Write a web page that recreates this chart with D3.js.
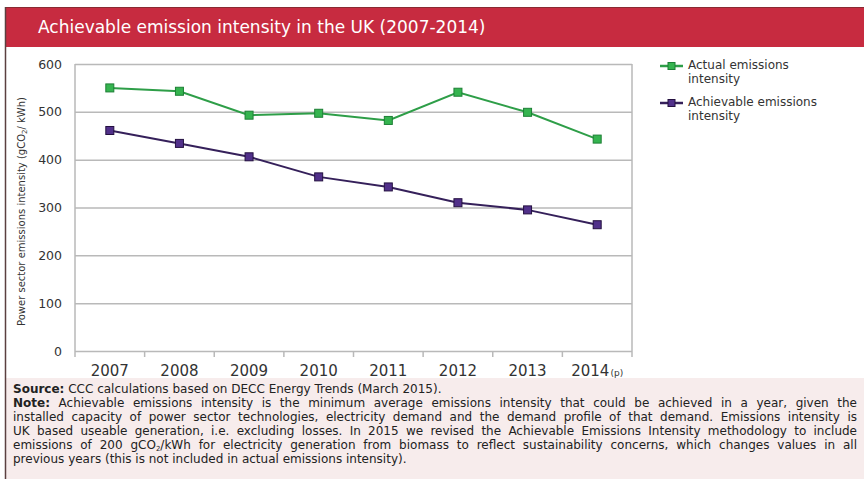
<!DOCTYPE html>
<html>
<head>
<meta charset="utf-8">
<script src="https://cdn.jsdelivr.net/npm/d3@7/dist/d3.min.js"></script>
<style>
  html, body { margin: 0; padding: 0; background: #ffffff; }
  svg { display: block; }
  text { font-family: "DejaVu Sans", Verdana, sans-serif; }
</style>
</head>
<body>
<svg id="chart" width="864" height="479"></svg>
<script>
// ---- data ----
const years = ["2007", "2008", "2009", "2010", "2011", "2012", "2013", "2014"];
const actualIntensity = [550, 543, 493, 497, 482, 541, 499, 443];
const achievableIntensity = [461, 434, 406, 364, 343, 310, 295, 264];
const yTicks = [0, 100, 200, 300, 400, 500, 600];
const seriesNames = ["Actual emissions intensity", "Achievable emissions intensity"];
const titleText = "Achievable emission intensity in the UK (2007-2014)";

// footnote lines; "|" ends a bold lead-in, "_x_" marks a subscript
const sourceLine = "Source:| CCC calculations based on DECC Energy Trends (March 2015).";
const noteLines = [
  "Note:| Achievable emissions intensity is the minimum average emissions intensity that could be achieved in a year, given the",
  "installed capacity of power sector technologies, electricity demand and the demand profile of that demand. Emissions intensity is",
  "UK based useable generation, i.e. excluding losses. In 2015 we revised the Achievable Emissions Intensity methodology to include",
  "emissions of 200 gCO_2_/kWh for electricity generation from biomass to reflect sustainability concerns, which changes values in all",
  "previous years (this is not included in actual emissions intensity)."
];

const svg = d3.select("#chart");

// ---- frame, title bar and footnote panel ----
svg.append("rect").attr("x", 5).attr("y", 378).attr("width", 859).attr("height", 101).attr("fill", "#f7ecec");
svg.append("rect").attr("x", 5).attr("y", 7).attr("width", 859).attr("height", 40).attr("fill", "#c72b40");
svg.append("line").attr("x1", 5).attr("x2", 864).attr("y1", 7.5).attr("y2", 7.5).attr("stroke", "#8a2a32").attr("stroke-width", 1);
svg.append("line").attr("x1", 5.5).attr("x2", 5.5).attr("y1", 7).attr("y2", 479).attr("stroke", "#5b4040").attr("stroke-width", 1.5);

svg.append("text")
  .attr("x", 38).attr("y", 33)
  .attr("fill", "#ffffff")
  .attr("font-size", 17)
  .text(titleText);

// ---- chart ----
const plot = { left: 75, right: 632, top: 64, bottom: 351 };
const x = d3.scaleBand().domain(years).range([plot.left, plot.right]);
const y = d3.scaleLinear().domain([0, 600]).range([plot.bottom, plot.top]);

const gridColor = "#b9b9b9";

// horizontal gridlines + y labels
const yAxis = svg.append("g")
  .attr("transform", `translate(${plot.left},0)`)
  .call(d3.axisLeft(y).tickValues(yTicks).tickSize(-(plot.right - plot.left)).tickPadding(13).tickFormat(d3.format("d")));
yAxis.select(".domain").remove();
yAxis.selectAll(".tick line").attr("stroke", gridColor).attr("stroke-width", 1.5);
yAxis.selectAll(".tick text")
  .attr("font-family", "DejaVu Sans, Verdana, sans-serif")
  .attr("font-size", 12.5).attr("fill", "#333333");

// plot frame sides
svg.append("line").attr("x1", plot.left).attr("x2", plot.left).attr("y1", plot.top).attr("y2", plot.bottom + 6)
  .attr("stroke", gridColor).attr("stroke-width", 1.5);
svg.append("line").attr("x1", plot.right).attr("x2", plot.right).attr("y1", plot.top).attr("y2", plot.bottom + 6)
  .attr("stroke", gridColor).attr("stroke-width", 1.5);

// x axis: ticks on band boundaries
const xAxis = svg.append("g").attr("transform", `translate(0,${plot.bottom})`);
xAxis.selectAll("line.bt")
  .data(years.slice(1))
  .join("line")
  .attr("class", "bt")
  .attr("x1", d => x(d)).attr("x2", d => x(d))
  .attr("y1", 0).attr("y2", 6)
  .attr("stroke", gridColor).attr("stroke-width", 1.5);

const xLabels = xAxis.selectAll("text.xl")
  .data(years)
  .join("text")
  .attr("class", "xl")
  .attr("x", d => x(d) + x.bandwidth() / 2)
  .attr("y", 25)
  .attr("text-anchor", "middle")
  .attr("font-size", 15)
  .attr("fill", "#333333");
xLabels.append("tspan").text(d => d);
xLabels.filter(d => d === years[years.length - 1])
  .append("tspan").attr("font-size", 9).attr("dx", 1).text("(p)");

// y axis title
const yTitle = svg.append("text")
  .attr("transform", `translate(25,${(plot.top + plot.bottom) / 2 + 4}) rotate(-90)`)
  .attr("text-anchor", "middle")
  .attr("font-size", 10)
  .attr("fill", "#333333");
yTitle.append("tspan").text("Power sector emissions intensity (gCO");
yTitle.append("tspan").attr("font-size", 7).attr("dy", 2).text("2");
yTitle.append("tspan").attr("dy", -2).text("/ kWh)");

// ---- series ----
const series = [
  { name: seriesNames[0], values: actualIntensity, line: "#2e9e48", fill: "#35b44f", stroke: "#1d7f35" },
  { name: seriesNames[1], values: achievableIntensity, line: "#35205a", fill: "#51308a", stroke: "#241040" }
];
const cx = (i) => x(years[i]) + x.bandwidth() / 2;
const lineGen = d3.line().x((d, i) => cx(i)).y(d => y(d));
const ms = 8;

series.forEach(s => {
  svg.append("path")
    .attr("d", lineGen(s.values))
    .attr("fill", "none")
    .attr("stroke", s.line)
    .attr("stroke-width", 2);
  svg.selectAll(null)
    .data(s.values)
    .join("rect")
    .attr("x", (d, i) => cx(i) - ms / 2)
    .attr("y", d => y(d) - ms / 2)
    .attr("width", ms).attr("height", ms)
    .attr("fill", s.fill)
    .attr("stroke", s.stroke)
    .attr("stroke-width", 1);
});

// ---- legend ----
const legend = svg.append("g").attr("transform", "translate(660,66)");
series.forEach((s, k) => {
  const g = legend.append("g").attr("transform", `translate(0,${k * 37})`);
  g.append("line").attr("x1", 0).attr("x2", 23).attr("y1", 0).attr("y2", 0)
    .attr("stroke", s.line).attr("stroke-width", 2.5);
  g.append("rect").attr("x", 11.5 - 3.5).attr("y", -3.5).attr("width", 7).attr("height", 7)
    .attr("fill", s.fill).attr("stroke", s.stroke).attr("stroke-width", 1);
  const words = s.name.split(" ");
  const t = g.append("text").attr("x", 28).attr("y", 3).attr("font-size", 12).attr("fill", "#333333");
  t.append("tspan").attr("x", 28).attr("dy", 0).text(words.slice(0, 2).join(" "));
  t.append("tspan").attr("x", 28).attr("dy", 14).text(words.slice(2).join(" "));
});

// ---- footnote (justified) ----
const noteLeft = 13, noteRight = 857, noteFont = 12;
function parseWords(line) {
  let boldPart = null, rest = line;
  if (line.includes("|")) { [boldPart, rest] = line.split("|"); }
  const words = [];
  if (boldPart) words.push([{ t: boldPart, bold: true }]);
  rest.trim().split(" ").forEach(w => {
    const parts = w.split("_");
    words.push(parts.filter(p => p.length).map((p, i) => ({ t: p, sub: i % 2 === 1 && parts.length > 1 })));
  });
  return words;
}
function drawWord(parent, pieces, xPos, yPos) {
  const t = parent.append("text").attr("x", xPos).attr("y", yPos)
    .attr("font-size", noteFont).attr("fill", "#222222");
  let shifted = false;
  pieces.forEach(p => {
    const sp = t.append("tspan").text(p.t);
    if (p.bold) sp.attr("font-weight", "bold");
    if (p.sub) { sp.attr("font-size", 7).attr("dy", 2); shifted = true; }
    else if (shifted) { sp.attr("dy", -2); shifted = false; }
  });
  return t;
}
const noteG = svg.append("g");
function drawLine(line, yPos, justify) {
  const words = parseWords(line);
  const nodes = words.map(w => drawWord(noteG, w, 0, yPos));
  const widths = nodes.map(n => n.node().getComputedTextLength());
  const total = d3.sum(widths);
  const natGap = noteFont * 0.318;
  const gap = justify ? (noteRight - noteLeft - total) / (words.length - 1) : natGap;
  let xp = noteLeft;
  nodes.forEach((n, i) => { n.attr("x", xp); xp += widths[i] + gap; });
}
drawLine(sourceLine, 393, false);
noteLines.forEach((l, i) => drawLine(l, 407 + i * 14, i < noteLines.length - 1));
</script>
</body>
</html>
